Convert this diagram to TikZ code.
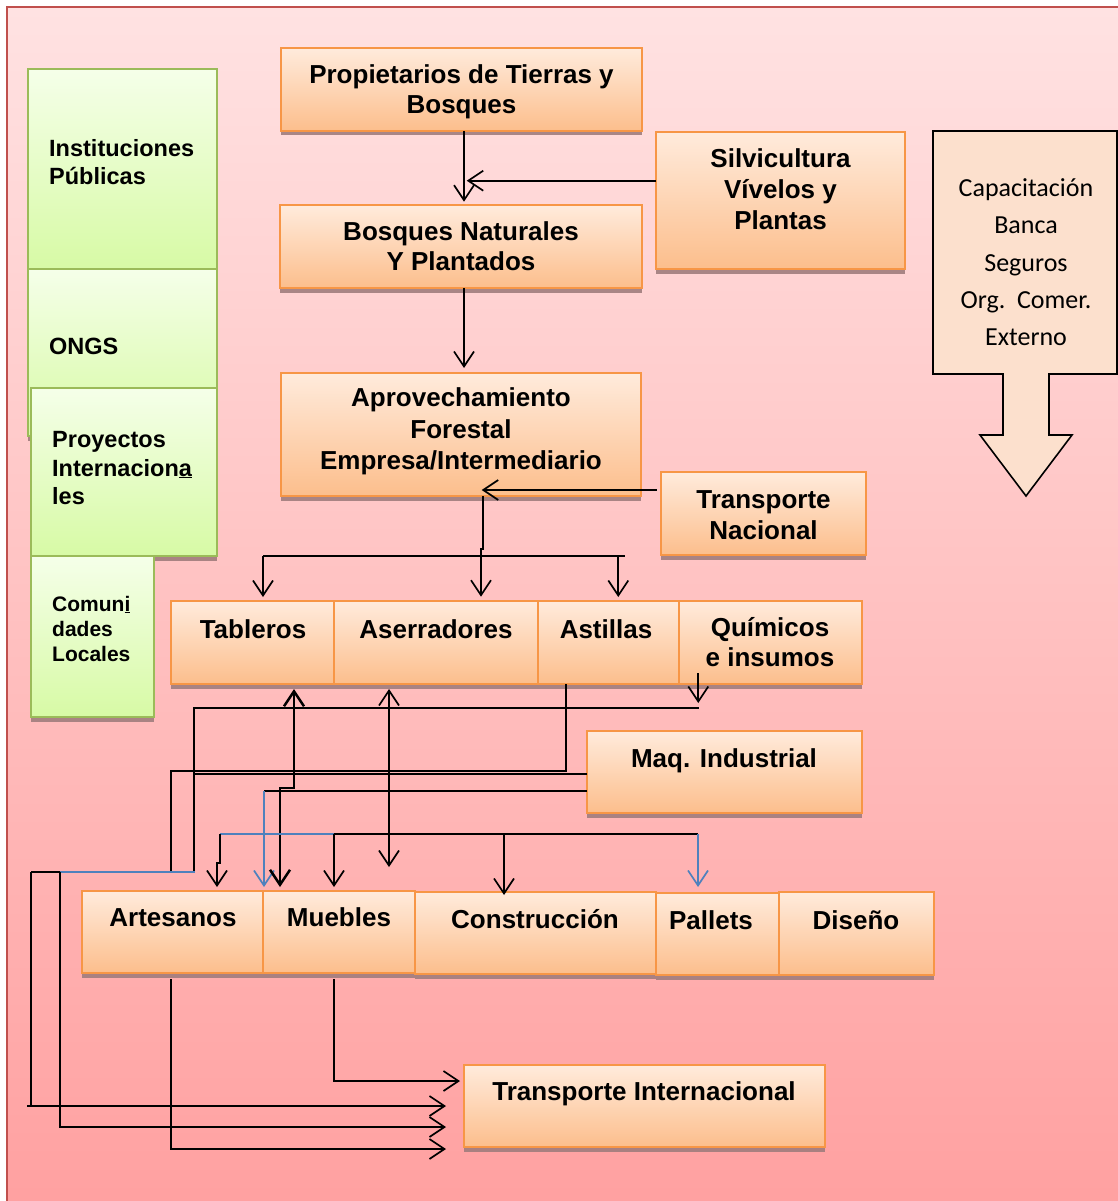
\documentclass[tikz,border=0pt]{standalone}
\usepackage{fontspec}
\setmainfont{Liberation Sans}
\newfontfamily\calib{Carlito}
\usetikzlibrary{arrows.meta,shadows}
\definecolor{bgtop}{RGB}{255,226,226}
\definecolor{bgbot}{RGB}{255,160,160}
\definecolor{framec}{RGB}{192,80,77}
\definecolor{otop}{RGB}{255,235,220}
\definecolor{obot}{RGB}{252,190,140}
\definecolor{oborder}{RGB}{247,150,70}
\definecolor{gtop}{RGB}{245,255,233}
\definecolor{gbot}{RGB}{215,250,165}
\definecolor{gborder}{RGB}{155,187,89}
\definecolor{capfill}{RGB}{252,224,205}
\definecolor{bluec}{RGB}{79,129,189}
\definecolor{shad}{RGB}{160,125,125}
\begin{document}
\begin{tikzpicture}[x=1pt,y=-1pt,
  >={Straight Barb[length=15pt,width=20pt]},
  obox/.style={draw=oborder, line width=1.6pt, top color=otop, bottom color=obot,
    anchor=north west, inner sep=0pt, outer sep=0pt,
    drop shadow={shadow xshift=0pt, shadow yshift=-4.5pt, fill=shad, opacity=0.9}},
  gbox/.style={draw=gborder, line width=1.6pt, top color=gtop, bottom color=gbot,
    anchor=north west, inner sep=0pt, outer sep=0pt,
    drop shadow={shadow xshift=0pt, shadow yshift=-4.5pt, fill=shad, opacity=0.9}},
  btxt/.style={font=\bfseries\fontsize{26}{30}\selectfont, align=center, anchor=base, inner sep=0pt},
  gtxt/.style={font=\bfseries\fontsize{23.5}{28.3}\selectfont, align=left, anchor=base west, inner sep=0pt},
  conn/.style={line width=1.7pt, draw=black},
  arr/.style={conn, ->},
  darr/.style={conn, <->},
  bconn/.style={line width=1.7pt, draw=bluec},
  barr/.style={bconn, ->}
]
\useasboundingbox (0,0) rectangle (1118,1201);
% background
\fill[white] (0,0) rectangle (1118,1201);
\shade[top color=bgtop, bottom color=bgbot] (7,7) rectangle (1130,1215);
\draw[framec, line width=1.5pt] (7,1215) -- (7,7) -- (1130,7);

% left green boxes
\node[gbox, minimum width=189pt, minimum height=200pt] (inst) at (28,69) {};
\node[gbox, minimum width=189pt, minimum height=167pt] (ongs) at (28,269) {};
\node[gbox, minimum width=186pt, minimum height=168pt] (proy) at (31,388) {};
\node[gbox, minimum width=123pt, minimum height=161pt] (comu) at (31,556) {};
\node[gtxt] (inst-t) at (49,185) {Instituciones\\Públicas};
\node[gtxt] (ongs-t) at (49,354) {ONGS};
\node[gtxt] (proy-t) at (52,504.3) {Proyectos\\Internacion\underline{a}\\les};
\node[gtxt, font=\bfseries\fontsize{21}{25}\selectfont] (comu-t) at (52,661) {Comun\underline{i}\\dades\\Locales};

% orange boxes
\node[obox, minimum width=361pt, minimum height=83pt] (prop) at (281,48) {};
\node[obox, minimum width=249pt, minimum height=137pt] (silv) at (656,132) {};
\node[obox, minimum width=362pt, minimum height=83pt] (bosq) at (280,205) {};
\node[obox, minimum width=360pt, minimum height=123pt] (aprov) at (281,373) {};
\node[obox, minimum width=205pt, minimum height=83pt] (tnac) at (661,472) {};
\node[obox, minimum width=163pt, minimum height=83pt] (tabl) at (171,601) {};
\node[obox, minimum width=204pt, minimum height=83pt] (aser) at (334,601) {};
\node[obox, minimum width=141pt, minimum height=83pt] (asti) at (538,601) {};
\node[obox, minimum width=183pt, minimum height=83pt] (quim) at (679,601) {};
\node[obox, minimum width=275pt, minimum height=82pt] (maq) at (587,731) {};
\node[obox, minimum width=181pt, minimum height=82pt] (arte) at (82,891) {};
\node[obox, minimum width=152pt, minimum height=82pt] (mueb) at (263,891) {};
\node[obox, minimum width=241pt, minimum height=82pt] (cons) at (415,892) {};
\node[obox, minimum width=123pt, minimum height=82pt] (pall) at (656,893) {};
\node[obox, minimum width=155pt, minimum height=83pt] (dise) at (779,892) {};
\node[obox, minimum width=361pt, minimum height=82pt] (tint) at (464,1065) {};

\node[btxt, font=\bfseries\fontsize{26}{29.3}\selectfont] (prop-t) at (461.5,113.3) {Propietarios de Tierras y\\Bosques};
\node[btxt, font=\bfseries\fontsize{26}{31}\selectfont] (silv-t) at (780.5,229) {Silvicultura\\Vívelos y\\Plantas};
\node[btxt] (bosq-t) at (461,270) {Bosques Naturales\\Y Plantados};
\node[btxt, font=\bfseries\fontsize{26}{31.3}\selectfont] (aprov-t) at (461,469.3) {Aprovechamiento\\Forestal\\Empresa/Intermediario};
\node[btxt, font=\bfseries\fontsize{26}{31}\selectfont] (tnac-t) at (763.5,539) {Transporte\\Nacional};
\node[btxt] (tabl-t) at (253,638) {Tableros};
\node[btxt] (aser-t) at (436,638) {Aserradores};
\node[btxt] (asti-t) at (606,638) {Astillas};
\node[btxt] (quim-t) at (770,666.7) {Químicos\\e insumos};
\node[btxt] (maq-t) at (724,767) {Maq. Industrial};
\node[btxt] (arte-t) at (173,926.7) {Artesanos};
\node[btxt] (mueb-t) at (339,926.7) {Muebles};
\node[btxt] (cons-t) at (535,928) {Construcción};
\node[btxt] (pall-t) at (711,929) {Pallets};
\node[btxt] (dise-t) at (856,929) {Diseño};
\node[btxt] (tint-t) at (644,1100) {Transporte Internacional};

% capacitacion arrow callout
\draw[black, line width=1.6pt, fill=capfill] (933,131) -- (1117,131) -- (1117,374) -- (1049,374)
  -- (1049,435) -- (1072,435) -- (1026,496) -- (980,435) -- (1003,435) -- (1003,374) -- (933,374) -- cycle;
\node[font=\calib\fontsize{26}{37.3}\selectfont, align=center, anchor=base, inner sep=0pt] (capa)
  at (1026,345.7) {Capacitación\\Banca\\Seguros\\Org.\ \ Comer.\\Externo};

% connectors: top
\draw[arr] ([xshift=2.5pt]prop.south) -- ([xshift=3pt,yshift=3.3pt]bosq.north);
\draw[arr] ([yshift=19.8pt]silv.west) -- ++(-189.3,0);
\draw[arr] ([xshift=3pt]bosq.south) -- ([xshift=3pt,yshift=5pt]aprov.north);
\draw[arr] ([xshift=-4.3pt,yshift=23.5pt]tnac.west) -- ++(-175,0);
\draw[arr] ([xshift=22.3pt]aprov.south) -- ++(0,53) -- ++(-2.3,0) -- ([xshift=45pt,yshift=4.3pt]aser.north);
\coordinate (d1) at (263,556);
\coordinate (d2) at (625,556);
\coordinate (d3) at (618.3,556);
\draw[conn] (d1) -- (d2);
\draw[arr] (d1) -- ([xshift=10.5pt,yshift=4pt]tabl.north);
\draw[arr] (d3) -- ([xshift=9.8pt,yshift=4pt]asti.north);

% middle
\draw[arr] ([xshift=-72.2pt,yshift=11pt]quim.south) -- ++(0,30);
\coordinate (q1) at (699,708);
\coordinate (q2) at (194,708);
\coordinate (q3) at (194,872);
\draw[conn] (q1) -- (q2) -- (q3);
\coordinate (a2) at (171,872);
\draw[conn] ([xshift=-42.5pt]asti.south) -- ++(0,87) -| (a2);
\draw[conn] ([yshift=-2pt]maq.west) -- ++(-393,0);
\draw[conn] ([yshift=-19pt]maq.west) -- ++(-323,0) coordinate (b1);
\draw[barr] (b1) -- ++(0,96);

\coordinate (l1) at (31,872);
\coordinate (l2) at (60,872);
\coordinate (l3) at (195,872);
\coordinate (l4) at (27,1106);
\draw[bconn] (l2) -- (l3);
\draw[conn] (l1) -- (l2);
\draw[conn] (l1) -- ++(0,234);
\draw[arr] (l4) -- ([xshift=-18pt]tint.west);
\draw[arr] (l2) |- ([xshift=-18pt,yshift=-21pt]tint.west);
\draw[arr] ([xshift=-1.5pt,yshift=-6pt]arte.south) |- ([xshift=-18pt,yshift=-43pt]tint.west);
\draw[arr] ([xshift=-5pt,yshift=-6pt]mueb.south) |- ([xshift=-4pt,yshift=25pt]tint.west);

% double arrows
\draw[darr, line width=2.5pt] ([xshift=41.5pt,yshift=-5pt]tabl.south) -- ++(0,99) -- ++(-14,0) -- ([xshift=-59pt,yshift=4pt]mueb.north);
\draw[darr] ([xshift=-47pt,yshift=-5pt]aser.south) -- ++(0,178);

% distribution line
\coordinate (e1) at (220,834);
\coordinate (e2) at (334,834);
\coordinate (e3) at (698,834);
\coordinate (e4) at (504,834);
\draw[bconn] (e1) -- (e2);
\draw[conn] (e2) -- (e3);
\draw[arr] (e1) -- ++(0,29) -- ++(-3,0) -- ([xshift=44.5pt,yshift=4pt]arte.north);
\draw[arr] (e2) -- ([xshift=-5pt,yshift=4pt]mueb.north);
\draw[arr] (e4) -- ([xshift=-31.5pt,yshift=-3pt]cons.north);
\draw[barr] (e3) -- ([xshift=-19.5pt,yshift=6pt]pall.north);
\end{tikzpicture}
\end{document}
